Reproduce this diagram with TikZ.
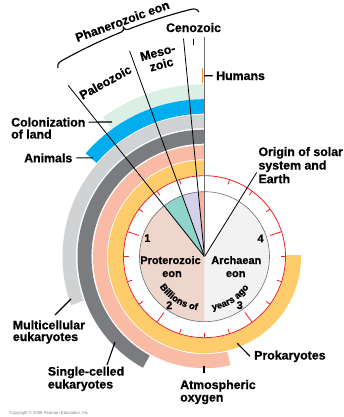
\documentclass[tikz,border=0pt]{standalone}
\usepackage{fontspec}
\setmainfont{Liberation Sans}[BoldFont={Liberation Sans Bold}, BoldFeatures={FakeBold=0.7}]
\usetikzlibrary{calc,decorations.text}
\definecolor{pgreen}{HTML}{DCEFE4}
\definecolor{cyanb}{HTML}{00AEEF}
\definecolor{lgray}{HTML}{D1D2D4}
\definecolor{dgray}{HTML}{7B7C7F}
\definecolor{salm}{HTML}{F9BBA5}
\definecolor{yel}{HTML}{FECC6A}
\definecolor{proto}{HTML}{EFD6CC}
\definecolor{arch}{HTML}{F2F2F2}
\definecolor{tealw}{HTML}{8ED4CB}
\definecolor{lav}{HTML}{D3D1EA}
\definecolor{cenow}{HTML}{F6B3A0}
\definecolor{redc}{HTML}{EC2227}
\definecolor{orng}{HTML}{E8913A}
\definecolor{vline}{HTML}{6D6E71}
\newcommand\myband[4]{%
  \fill[#1] ($(C)+(90:#3)$) arc[start angle=90,end angle={90+#4},radius=#3]
    -- ($(C)+({90+#4}:#2)$) arc[start angle={90+#4},end angle=90,radius=#2] -- cycle;}
\newcommand\mywedge[4]{%
  \fill[#1] (C) -- ($(C)+(#2:#4)$) arc[start angle=#2,end angle=#3,radius=#4] -- cycle;}
\begin{document}
\begin{tikzpicture}[x=1bp,y=1bp,
  lab/.style={font=\bfseries\fontsize{12.4}{13}\selectfont, inner sep=0pt},
  pielab/.style={font=\bfseries\fontsize{11}{12}\selectfont, inner sep=0pt},
  num/.style={font=\bfseries\fontsize{11}{12}\selectfont, inner sep=0pt},
  leader/.style={line width=1.1bp, black},
  radial/.style={line width=0.8bp, black},
  ticky/.style={line width=0.8bp, redc}]
\useasboundingbox (0,0) rectangle (344,417);
\coordinate (C) at (204.5,160.3);
% bands
\myband{pgreen}{157.5}{172.5}{36}
\myband{cyanb}{143}{157.5}{49}
\myband{lgray}{128.5}{142}{110}
\myband{dgray}{113}{127}{151}
\myband{salm}{97.5}{111.5}{193.5}
\myband{yel}{81.5}{96.5}{271}
% pie
\mywedge{proto}{128.5}{270}{65}
\mywedge{arch}{270}{418.5}{65}
\mywedge{tealw}{110}{128.5}{65}
\mywedge{lav}{95.5}{110}{65}
\mywedge{cenow}{90}{95.5}{65}
% red dial
\draw[ticky] (C) circle[radius=81];
\foreach \k in {1,2,3,5,6,7,9,10,11,13,14,15,17,18,19}
  \draw[ticky] ($(C)+({90+18*\k}:76)$) -- ($(C)+({90+18*\k}:81)$);
\foreach \k in {4,8,12,16}
  \draw[ticky] ($(C)+({90+18*\k}:69)$) -- ($(C)+({90+18*\k}:81)$);
\draw[vline, line width=0.6bp] (C) circle[radius=65];
% radial lines
\draw[radial] (C) -- ($(C)+(128.5:219)$);
\draw[radial] (C) -- ($(C)+(110:219)$);
\draw[radial] (C) -- ($(C)+(95.5:219)$);
\draw[radial] (C) -- ($(C)+(58.2:99)$);
\draw[vline, line width=1.2bp] (C) -- ($(C)+(90:219.7)$);
\draw[orng, line width=1.6bp] (202.4,348.5) -- (202.4,334);
% numbers
\node[num] (n1) at ($(C)+(162:60)$) {1};
\node[num] (n2) at ($(C)+(234:60)$) {2};
\node[num] (n3) at ($(C)+(306:60)$) {3};
\node[num] (n4) at ($(C)+(18:59)$) {4};
% pie labels
\node[pielab, anchor=base] (pro1) at (170.5,153) {Proterozoic};
\node[pielab, anchor=base] (pro2) at (172,140) {eon};
\node[pielab, anchor=base] (arc1) at (236.3,153) {Archaean};
\node[pielab, anchor=base] (arc2) at (235.7,140) {eon};
\path[decorate, decoration={text along path, text align=center,
  text={|\bfseries\fontsize{9.5}{10}\selectfont|Billions of}}]
  ($(C)+(208:54)$) arc[start angle=208, end angle=268, radius=54];
\path[decorate, decoration={text along path, text align=center,
  text={|\bfseries\fontsize{9.5}{10}\selectfont|years ago}}]
  ($(C)+(272:54)$) arc[start angle=272, end angle=332, radius=54];
% brace and era labels
\begin{scope}[shift={(58,349)}, rotate=21.66]
  \draw[line width=1.1bp] (0,0) .. controls (0.5,3.5) and (2.5,5) .. (7,5.5)
    .. controls (30,8.5) and (55,10) .. (72,10)
    .. controls (74.5,10) and (75.6,11.5) .. (75.8,14)
    .. controls (76,11.5) and (77.1,10) .. (79.6,10)
    .. controls (96.6,10) and (121.6,8.5) .. (144.6,5.5)
    .. controls (149.1,5) and (151.1,3.5) .. (151.6,0);
  \node[lab, anchor=base, rotate=20] (phan) at (77,15.5) {Phanerozoic eon};
\end{scope}
\node[lab, anchor=base, rotate=29] (paleo) at (107.5,331) {Paleozoic};
\node[lab, anchor=base, rotate=15] (meso1) at (158.8,360.5) {Meso-};
\node[lab, anchor=base, rotate=15] (meso2) at (162.5,348.5) {zoic};
\node[lab, anchor=base] (ceno) at (193.5,385) {Cenozoic};
\coordinate (cenoT) at (193.5,372);
\draw[leader] ([yshift=-7bp]ceno.south) -- (cenoT);
% outside labels
\node[lab, anchor=base west] (hum) at (216,337) {Humans};
\coordinate (humB) at (204,341.3);
\draw[leader] ([xshift=-3bp]hum.west) -- (humB);
\node[lab, anchor=base west] (colo1) at (11,290.5) {Colonization};
\node[lab, anchor=base west] (colo2) at (11,278.5) {of land};
\coordinate (colB) at (112,295);
\draw[leader] ([xshift=3bp]colo1.east) -- (colB);
\node[lab, anchor=base west] (anim) at (24,254.7) {Animals};
\coordinate (aniB) at (93,259.2);
\draw[leader] ([xshift=4bp]anim.east) -- (aniB);
\node[lab, anchor=base west] (mc1) at (12.7,87.7) {Multicellular};
\node[lab, anchor=base west] (mc2) at (12.7,76) {eukaryotes};
\coordinate (mcA) at (55,102); \coordinate (mcB) at (71,118);
\draw[leader] (mcA) -- (mcB);
\node[lab, anchor=base west] (sc1) at (47.7,41.4) {Single-celled};
\node[lab, anchor=base west] (sc2) at (47.7,28.5) {eukaryotes};
\coordinate (scA) at (107,52); \coordinate (scB) at (115,75);
\draw[leader] (scA) -- (scB);
\node[lab, anchor=base west] (ox1) at (180,28) {Atmospheric};
\node[lab, anchor=base west] (ox2) at (180,15.5) {oxygen};
\coordinate (oxA) at (204,51); \coordinate (oxB) at (204,44);
\draw[leader] (oxB) -- (oxA);
\node[lab, anchor=base west] (prok) at (254,57.5) {Prokaryotes};
\coordinate (prA) at (237.3,73.7);
\draw[leader] ([xshift=-4bp]prok.west) -- (prA);
\node[lab, anchor=base west] (or1) at (258.3,261) {Origin of solar};
\node[lab, anchor=base west] (or2) at (258.3,247.5) {system and};
\node[lab, anchor=base west] (or3) at (258.3,233.8) {Earth};
\node[anchor=base west, inner sep=0pt, text=gray, font=\fontsize{4.3}{5}\selectfont] (copy) at (9,3) {Copyright \textcopyright{} 2008 Pearson Education, Inc.};
\end{tikzpicture}
\end{document}
